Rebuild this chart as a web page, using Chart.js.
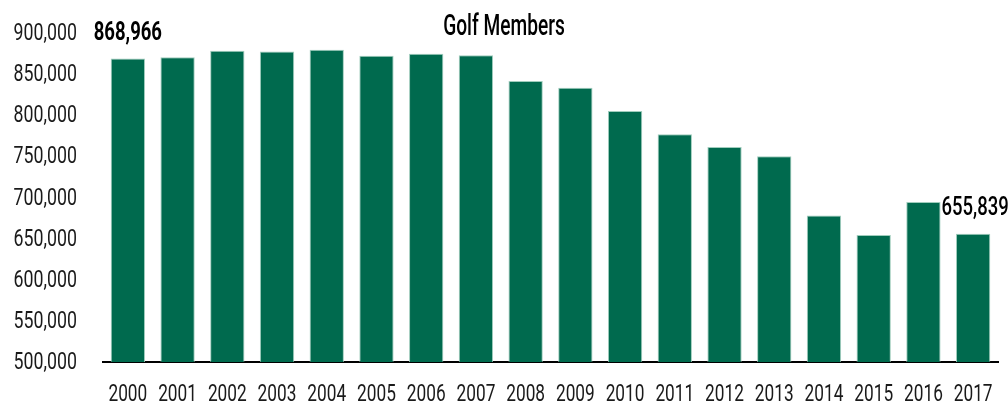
<!DOCTYPE html>
<html>
<head>
<meta charset="utf-8">
<script src="https://cdn.jsdelivr.net/npm/chart.js@4"></script>
<style>
  html, body { margin: 0; padding: 0; background: #ffffff; }
  #wrap { width: 1008px; height: 405px; position: relative; }
</style>
</head>
<body>
<div id="wrap"><canvas id="chart" width="1008" height="405"></canvas></div>
<script>
// Golf membership by year
const years = ['2000','2001','2002','2003','2004','2005','2006','2007','2008',
               '2009','2010','2011','2012','2013','2014','2015','2016','2017'];
const members = [868966, 870500, 878300, 877500, 879500, 872200, 874700, 873100, 841500,
                 833300, 805300, 777000, 761500, 750200, 678000, 654500, 694600, 655839];
// Bars whose values are printed above them
const labelledBars = [0, 17];
const yTicks = [500000, 550000, 600000, 650000, 700000, 750000, 800000, 850000, 900000];
const chartTitle = 'Golf Members';

const FONT = 'Roboto, "Noto Sans", sans-serif';
const fmt = v => v.toLocaleString('en-US');

// Narrow, tall lettering: draw text squeezed horizontally
function drawNarrow(ctx, text, x, y, font, sx, align) {
  ctx.save();
  ctx.translate(x, y);
  ctx.scale(sx, 1);
  ctx.font = font;
  ctx.textAlign = align;
  ctx.textBaseline = 'middle';
  ctx.fillText(text, 0, 0);
  ctx.restore();
}

const titlePlugin = {
  id: 'centerTitle',
  afterDraw(chart) {
    const ctx = chart.ctx;
    ctx.fillStyle = '#000';
    drawNarrow(ctx, chartTitle, chart.width / 2, 28, '500 29px ' + FONT, 0.66, 'center');
  }
};

// Axis labels taken from the scales' own ticks
const axisLabels = {
  id: 'axisLabels',
  afterDraw(chart) {
    const ctx = chart.ctx;
    const xs = chart.scales.x, ys = chart.scales.y;
    ctx.fillStyle = '#1a1a1a';
    ys.ticks.forEach((t, i) => {
      drawNarrow(ctx, fmt(t.value), xs.left - 26, ys.getPixelForTick(i) + 1,
                 '24px ' + FONT, 0.74, 'right');
    });
    xs.ticks.forEach((t, i) => {
      drawNarrow(ctx, years[t.value], xs.getPixelForTick(i), ys.bottom + 33,
                 '24px ' + FONT, 0.72, 'center');
    });
  }
};

const valueLabels = {
  id: 'valueLabels',
  afterDatasetsDraw(chart) {
    const ctx = chart.ctx;
    const meta = chart.getDatasetMeta(0);
    ctx.fillStyle = '#000';
    labelledBars.forEach((i, k) => {
      const bar = meta.data[i];
      const w = k === 0 ? 'bold ' : '500 ';
      drawNarrow(ctx, fmt(members[i]), bar.x + (k === 0 ? 0 : 2), bar.y - 25,
                 w + '25px ' + FONT, 0.74, 'center');
    });
  }
};

new Chart(document.getElementById('chart'), {
  type: 'bar',
  data: {
    labels: years,
    datasets: [{
      data: members,
      backgroundColor: '#006a4e',
      borderColor: 'rgba(150,200,182,0.9)',
      borderWidth: 1,
      borderSkipped: 'bottom',
      barPercentage: 0.69,
      categoryPercentage: 1.0
    }]
  },
  options: {
    responsive: false,
    animation: false,
    layout: { padding: { top: 33, right: 10, left: 0, bottom: 0 } },
    plugins: {
      legend: { display: false },
      title: { display: false },
      tooltip: { enabled: false }
    },
    scales: {
      x: {
        grid: { display: false },
        border: { display: true, color: '#000', width: 2 },
        ticks: { display: false, autoSkip: false },
        afterFit(scale) { scale.height = 43; }
      },
      y: {
        min: 500000,
        max: 900000,
        grid: { display: false },
        border: { display: false },
        afterBuildTicks(scale) { scale.ticks = yTicks.map(v => ({ value: v })); },
        ticks: { display: false },
        afterFit(scale) { scale.width = 103; }
      }
    }
  },
  plugins: [titlePlugin, axisLabels, valueLabels]
});
</script>
</body>
</html>
